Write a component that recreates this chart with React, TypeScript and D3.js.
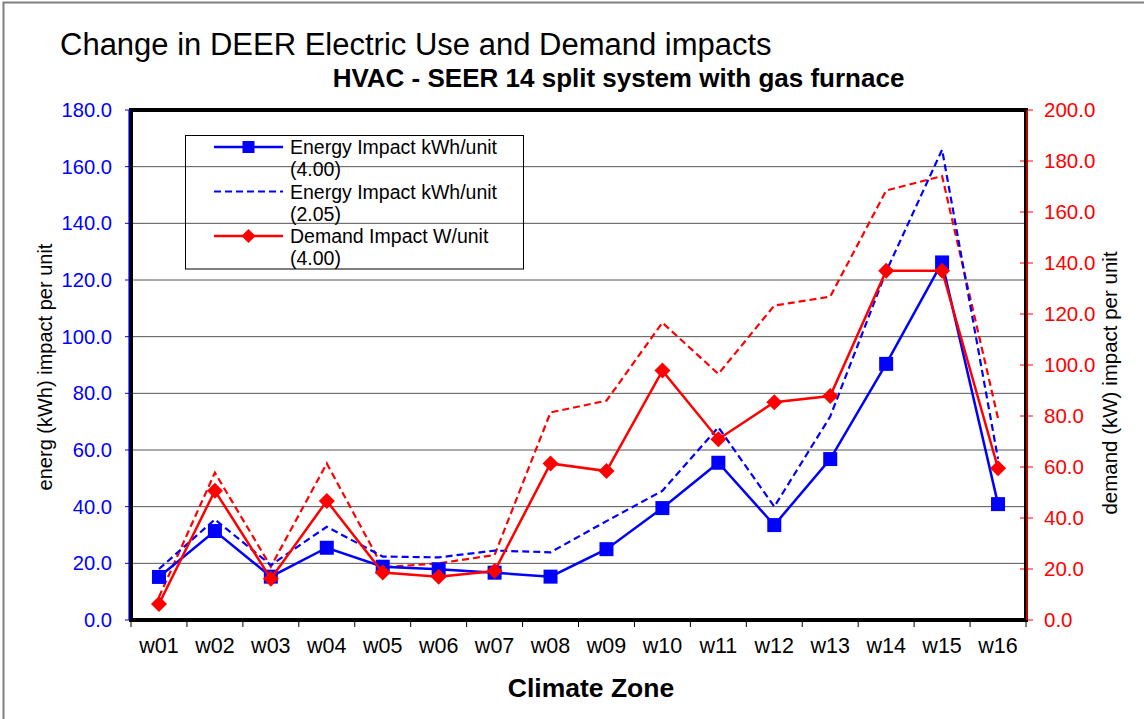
import React from "react";
import * as d3 from "d3";

const zones = ["w01","w02","w03","w04","w05","w06","w07","w08","w09","w10","w11","w12","w13","w14","w15","w16"];
const energy400 = [15.2,31.4,15.3,25.5,18.8,17.9,16.7,15.3,25.0,39.5,55.5,33.5,56.8,90.4,126.2,40.9];
const energy205 = [18.0,35.5,19.4,32.9,22.4,22.1,24.5,23.9,34.9,45.6,68.0,40.0,71.8,123.0,166.0,56.8];
const demand400 = [6.3,50.7,16.2,46.7,18.6,17.0,19.2,61.4,58.4,97.8,70.9,85.4,87.8,137.0,137.0,59.5];
const demand205 = [9.0,57.8,20.9,61.4,20.7,22.2,25.5,81.4,86.0,116.6,96.5,123.3,126.8,168.4,174.1,79.1];
const leftTicks = [0,20,40,60,80,100,120,140,160,180];
const rightTicks = [0,20,40,60,80,100,120,140,160,180,200];

const W = 1144, H = 719;
const L = 131, R = 1026, T = 110, B = 620;
const FONT = "Liberation Sans, Arial, sans-serif";

export default function App() {
  const x = d3.scaleBand<string>().domain(zones).range([L, R]);
  const yL = d3.scaleLinear().domain([0, 180]).range([B, T]);
  const yR = d3.scaleLinear().domain([0, 200]).range([B, T]);
  const cx = (z: string) => (x(z) as number) + x.bandwidth() / 2;
  const lineL = d3.line<number>().x((_, i) => cx(zones[i])).y((d) => yL(d));
  const lineR = d3.line<number>().x((_, i) => cx(zones[i])).y((d) => yR(d));
  const sq = 14, dm = 8;
  const diamond = (px: number, py: number) =>
    `M${px},${py - dm}L${px + dm},${py}L${px},${py + dm}L${px - dm},${py}Z`;

  const legendItems = [
    { t1: "Energy Impact kWh/unit", t2: "(4.00)", color: "#0000ff", dash: "", marker: "sq" },
    { t1: "Energy Impact kWh/unit", t2: "(2.05)", color: "#0000ff", dash: "7,4", marker: "" },
    { t1: "Demand Impact W/unit", t2: "(4.00)", color: "#ff0000", dash: "", marker: "dm" },
  ];

  return (
    <svg width={W} height={H} style={{ position: "absolute", left: 0, top: 0, background: "#fff" }} fontFamily={FONT}>
      <rect x={3.5} y={2.5} width={W + 10} height={H + 10} fill="#fff" stroke="#808080" strokeWidth={2} />
      <text x={60} y={55} fontSize={31} fill="#000">Change in DEER Electric Use and Demand impacts</text>
      <text x={618.5} y={87} fontSize={26} fontWeight="bold" textAnchor="middle" fill="#000">HVAC - SEER 14 split system with gas furnace</text>

      {/* gridlines */}
      {leftTicks.map((t) => (
        <line key={"g" + t} x1={L} x2={R} y1={yL(t)} y2={yL(t)} stroke="#555" strokeWidth={1} />
      ))}

      {/* left axis */}
      {leftTicks.map((t) => (
        <g key={"lt" + t}>
          <line x1={L - 6} x2={L} y1={yL(t)} y2={yL(t)} stroke="#0000ff" strokeWidth={1} />
          <text x={112} y={yL(t) + 7} fontSize={20.2} fill="#0000ff" textAnchor="end">{t.toFixed(1)}</text>
        </g>
      ))}
      {/* right axis */}
      {rightTicks.map((t) => (
        <g key={"rt" + t}>
          <line x1={R - 6} x2={R + 7} y1={yR(t)} y2={yR(t)} stroke="#ff0000" strokeWidth={1} />
          <text x={1044} y={yR(t) + 7} fontSize={20.5} fill="#ff0000">{t.toFixed(1)}</text>
        </g>
      ))}

      {/* x ticks */}
      {zones.map((z) => (
        <line key={"xt" + z} x1={x(z) as number} x2={x(z) as number} y1={B} y2={B + 7} stroke="#000" strokeWidth={1} />
      ))}
      <line x1={R} x2={R} y1={B} y2={B + 7} stroke="#000" strokeWidth={1} />
      {zones.map((z) => (
        <text key={"xl" + z} x={cx(z)} y={653} fontSize={21.5} textAnchor="middle" fill="#000">{z}</text>
      ))}

      {/* frame */}
      <rect x={L} y={T} width={R - L} height={B - T} fill="none" stroke="#000" strokeWidth={4} />
      <line x1={L - 2} x2={L - 2} y1={T} y2={B} stroke="#0000ff" strokeWidth={1.2} />
      <line x1={R + 1} x2={R + 1} y1={T} y2={B} stroke="#ff0000" strokeWidth={1.5} />

      {/* series */}
      <path d={lineR(demand205) || ""} fill="none" stroke="#ff0000" strokeWidth={2.2} strokeDasharray="7,4" />
      <path d={lineL(energy205) || ""} fill="none" stroke="#0000ff" strokeWidth={2.2} strokeDasharray="7,4" />
      <path d={lineL(energy400) || ""} fill="none" stroke="#0000ff" strokeWidth={2.5} />
      {energy400.map((v, i) => (
        <rect key={"s" + i} x={cx(zones[i]) - sq / 2} y={yL(v) - sq / 2} width={sq} height={sq} fill="#0000ff" />
      ))}
      <path d={lineR(demand400) || ""} fill="none" stroke="#ff0000" strokeWidth={2.5} />
      {demand400.map((v, i) => (
        <path key={"d" + i} d={diamond(cx(zones[i]), yR(v))} fill="#ff0000" />
      ))}

      {/* legend */}
      <rect x={185.5} y={135.5} width={338} height={133.5} fill="none" stroke="#000" strokeWidth={1} />
      {legendItems.map((it, i) => {
        const ly = 147 + i * 44.5;
        return (
          <g key={"lg" + i}>
            <line x1={214} x2={283} y1={ly} y2={ly} stroke={it.color} strokeWidth={it.dash ? 2 : 2.5} strokeDasharray={it.dash} />
            {it.marker === "sq" && <rect x={248.5 - 6} y={ly - 6} width={12} height={12} fill={it.color} />}
            {it.marker === "dm" && (
              <path d={`M248.5,${ly - 7}L255.5,${ly}L248.5,${ly + 7}L241.5,${ly}Z`} fill={it.color} />
            )}
            <text x={290} y={ly + 7} fontSize={19.5} fill="#000">{it.t1}</text>
            <text x={290} y={ly + 29} fontSize={19.5} fill="#000">{it.t2}</text>
          </g>
        );
      })}

      {/* axis titles */}
      <text x={591} y={697} fontSize={26.5} fontWeight="bold" textAnchor="middle" fill="#000">Climate Zone</text>
      <text transform={`translate(52,367) rotate(-90)`} fontSize={20} textAnchor="middle" fill="#000">energ (kWh) impact per unit</text>
      <text transform={`translate(1117,383) rotate(-90)`} fontSize={20.5} textAnchor="middle" fill="#000">demand (kW) impact per unit</text>
    </svg>
  );
}
